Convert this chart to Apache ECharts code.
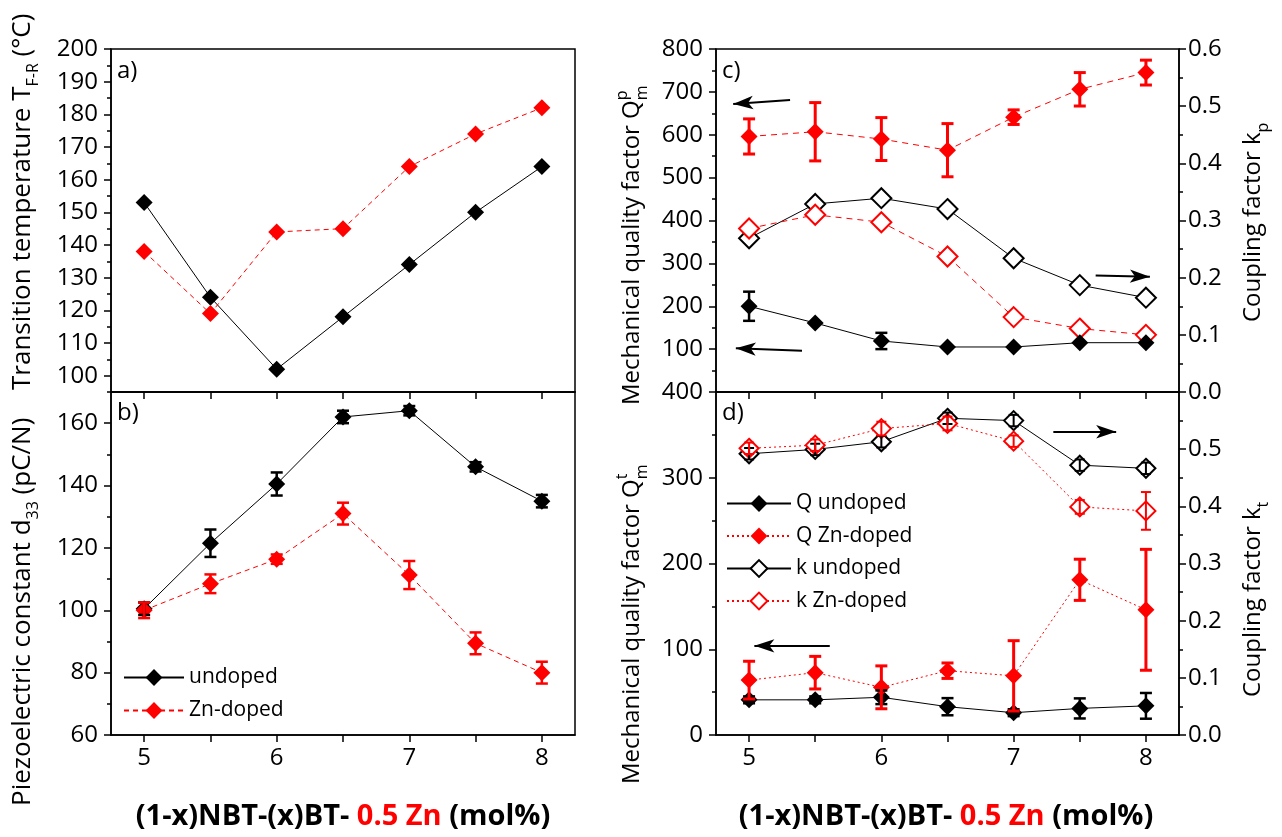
<!DOCTYPE html>
<html>
<head>
<meta charset="utf-8">
<title>NBT-BT-Zn properties</title>
<script src="https://cdn.jsdelivr.net/npm/echarts@6/dist/echarts.min.js"></script>
<style>
  html, body { margin: 0; padding: 0; background: #fff; }
  #chart { width: 1282px; height: 837px; }
</style>
</head>
<body>
<div id="chart"></div>
<script>
// ---- data: BT content x (mol%) ----
const composition = [5, 5.5, 6, 6.5, 7, 7.5, 8];
const xTickLabels = [5, 6, 7, 8];

// a) transition temperature T_F-R (°C)
const tfrUndoped = [153, 124, 102, 118, 134, 150, 164];
const tfrZn      = [138, 119, 144, 145, 164, 174, 182];

// b) piezoelectric constant d33 (pC/N)
const d33Undoped    = [100.5, 121.5, 140.5, 162, 164, 146, 135];
const d33UndopedErr = [2, 4.4, 3.7, 2, 1.5, 1.5, 2];
const d33Zn         = [100, 108.5, 116.4, 131, 111.3, 89.4, 80];
const d33ZnErr      = [2.5, 3, 1.5, 3.5, 4.5, 3.5, 3.5];

// c) planar mode: Qm^p (left axis) and kp (right axis)
const qpUndoped    = [200, 161, 119, 105, 105, 115, 115];
const qpUndopedErr = [34, 0, 19, 0, 0, 0, 0];
const qpZn         = [596, 607, 590, 564, 641, 706, 745];
const qpZnErr      = [41, 68, 50, 62, 17, 39, 29];
const kpUndoped    = [0.269, 0.329, 0.339, 0.320, 0.234, 0.187, 0.165];
const kpZn         = [0.286, 0.310, 0.297, 0.237, 0.131, 0.111, 0.100];

// d) thickness mode: Qm^t (left axis) and kt (right axis)
const qtUndoped    = [41, 41, 44, 33, 26, 31, 34];
const qtUndopedErr = [4, 4, 8, 10, 4, 11.7, 15];
const qtZn         = [64, 72.7, 55.6, 75, 69, 181, 146];
const qtZnErr      = [22, 19, 25, 9, 41, 24, 70.5];
const ktUndoped    = [0.492, 0.4995, 0.513, 0.554, 0.55, 0.472, 0.4665];
const ktUndopedErr = [0.01, 0.01, 0.01, 0.01, 0.01, 0.01, 0.01];
const ktZn         = [0.5015, 0.507, 0.536, 0.545, 0.514, 0.399, 0.392];
const ktZnErr      = [0.01, 0.01, 0.012, 0.012, 0.01, 0.012, 0.033];

// ---- y-axis tick sets ----
const aTicks = [100, 110, 120, 130, 140, 150, 160, 170, 180, 190, 200];
const aMinor = [105, 115, 125, 135, 145, 155, 165, 175, 185, 195];
const bTicks = [60, 80, 100, 120, 140, 160];
const bMinor = [70, 90, 110, 130, 150, 170];
const cLeftTicks  = [0, 100, 200, 300, 400, 500, 600, 700, 800];
const cLeftLabels = [100, 200, 300, 400, 500, 600, 700, 800];
const cLeftMinor  = [50, 150, 250, 350, 450, 550, 650, 750];
const kTicks  = [0, 0.1, 0.2, 0.3, 0.4, 0.5, 0.6];
const kMinor  = [0.05, 0.15, 0.25, 0.35, 0.45, 0.55];
const cRightLabels = [0, 0.1, 0.2, 0.3, 0.4, 0.5, 0.6];
const dLeftTicks  = [0, 100, 200, 300, 400];
const dLeftMinor  = [50, 150, 250, 350];
const dRightLabels = [0, 0.1, 0.2, 0.3, 0.4, 0.5];

const FONT = '"Open Sans", "Noto Sans", sans-serif';
const RED = '#ff0000';
const BLACK = '#000000';
const TICK_FONT = 24;

const chart = echarts.init(document.getElementById('chart'), null, { renderer: 'canvas' });

const pairs = (vals) => composition.map((x, i) => [x, vals[i]]);

// ---- axes ----
function xAxisFor(grid, showLabels) {
  return {
    type: 'value', gridIndex: grid, min: 4.75, max: 8.25, position: 'bottom',
    axisLine: { show: true, onZero: false, lineStyle: { color: BLACK, width: 1.5 } },
    axisTick: { show: true, customValues: composition, length: 7, lineStyle: { color: BLACK, width: 1.5 } },
    axisLabel: { show: showLabels, customValues: xTickLabels, fontSize: TICK_FONT, color: BLACK, margin: 11, fontFamily: FONT },
    splitLine: { show: false }
  };
}
function yAxisFor(grid, pos, min, max, ticks, labels, fmt) {
  return {
    type: 'value', gridIndex: grid, position: pos, min: min, max: max,
    axisLine: { show: true, onZero: false, lineStyle: { color: BLACK, width: 1.5 } },
    axisTick: { show: true, customValues: ticks, length: 7, lineStyle: { color: BLACK, width: 1.5 } },
    axisLabel: { show: true, customValues: labels, fontSize: TICK_FONT, color: BLACK, fontFamily: FONT,
                 margin: pos === 'left' ? 13 : 9, formatter: fmt || (v => String(v)) },
    splitLine: { show: false }
  };
}
function yMinorFor(grid, pos, min, max, ticks) {
  return {
    type: 'value', gridIndex: grid, position: pos, min: min, max: max,
    axisLine: { show: false, onZero: false },
    axisTick: { show: true, customValues: ticks, length: 4, lineStyle: { color: BLACK, width: 1.5 } },
    axisLabel: { show: false },
    splitLine: { show: false }
  };
}
const oneDecimal = v => v.toFixed(1);

// ---- series helpers ----
function lineSeries(name, xi, yi, vals, color, dash, symbol, size, extra) {
  const empty = symbol === 'emptyDiamond';
  return Object.assign({
    type: 'line', name: name, xAxisIndex: xi, yAxisIndex: yi,
    data: pairs(vals),
    symbol: symbol, symbolSize: size, showSymbol: true,
    lineStyle: { color: color, width: 1, type: dash },
    itemStyle: { color: color, borderColor: color, borderWidth: empty ? 1.3 : 0 },
    z: empty ? 2 : 3, animation: false, silent: true, clip: false
  }, extra || {});
}
function errorBars(name, xi, yi, vals, errs, color, lw, cap) {
  return {
    type: 'custom', name: name, xAxisIndex: xi, yAxisIndex: yi,
    data: composition.map((x, i) => [x, vals[i], errs[i]]).filter(d => d[2] > 0),
    encode: { x: 0, y: 1 },
    z: 4, silent: true, animation: false, clip: false,
    renderItem: function (params, api) {
      const x = api.value(0), y = api.value(1), e = api.value(2);
      const hi = api.coord([x, y + e]);
      const lo = api.coord([x, y - e]);
      const st = { stroke: color, lineWidth: lw };
      return {
        type: 'group',
        children: [
          { type: 'line', shape: { x1: hi[0], y1: hi[1], x2: lo[0], y2: lo[1] }, style: st },
          { type: 'line', shape: { x1: hi[0] - cap / 2, y1: hi[1], x2: hi[0] + cap / 2, y2: hi[1] }, style: st },
          { type: 'line', shape: { x1: lo[0] - cap / 2, y1: lo[1], x2: lo[0] + cap / 2, y2: lo[1] }, style: st }
        ]
      };
    }
  };
}
// arrows telling which axis a group of points belongs to
function arrow(from, to) {
  return [{ coord: from, symbol: 'none' }, { coord: to, symbol: 'arrow', symbolSize: [10, 20] }];
}
function arrowMark(list) {
  return {
    silent: true, animation: false,
    symbol: ['none', 'arrow'],
    label: { show: false },
    emphasis: { disabled: true },
    lineStyle: { color: BLACK, width: 2, type: 'solid' },
    data: list
  };
}

const DIA = 17;      // filled diamond size
const ODIA_C = 20;   // open diamond, panel c
const ODIA_D = 19;   // open diamond, panel d

// ---- axis titles (rotated, reading upward) ----
function vTitle(x, y, text, rich, size) {
  return {
    type: 'text', x: x, y: y, rotation: Math.PI / 2, silent: true,
    style: {
      text: text, rich: rich, fontSize: size, fontFamily: FONT, fill: BLACK,
      align: 'left', verticalAlign: 'middle',
      textAlign: 'left', textVerticalAlign: 'middle'
    }
  };
}
const sub = (fs) => ({ fontSize: fs, fontFamily: FONT, padding: [20, 0, 0, 0] });
const sup = (fs) => ({ fontSize: fs, fontFamily: FONT, padding: [0, 0, 20, 0] });
const hidden = (fs) => ({ fontSize: fs, fontFamily: FONT, fill: 'rgba(0,0,0,0)', color: 'rgba(0,0,0,0)' });

function panelLabel(x, y, t) {
  return { type: 'text', x: x, y: y, silent: true,
    style: { text: t, fontSize: 24, fontFamily: FONT, fill: BLACK, align: 'left', verticalAlign: 'top' } };
}
function xTitle(cx, cy) {
  return {
    type: 'text', x: cx, y: cy, silent: true,
    style: {
      text: '{b|(1-x)NBT-(x)BT- }{r|0.5 Zn}{b| (mol%)}',
      align: 'center', verticalAlign: 'middle', textAlign: 'center', textVerticalAlign: 'middle',
      rich: {
        b: { fontSize: 29, fontWeight: 'bold', fontFamily: FONT, fill: BLACK, color: BLACK },
        r: { fontSize: 29, fontWeight: 'bold', fontFamily: FONT, fill: RED, color: RED }
      }
    }
  };
}

const option = {
  backgroundColor: '#ffffff',
  animation: false,
  textStyle: { fontFamily: FONT },
  grid: [
    { left: 111, top: 49, width: 464, height: 343, show: true, borderColor: BLACK, borderWidth: 1.5, backgroundColor: 'transparent' },
    { left: 111, top: 392, width: 464, height: 343, show: true, borderColor: BLACK, borderWidth: 1.5, backgroundColor: 'transparent' },
    { left: 716, top: 49, width: 463, height: 343, show: true, borderColor: BLACK, borderWidth: 1.5, backgroundColor: 'transparent' },
    { left: 716, top: 392, width: 463, height: 343, show: true, borderColor: BLACK, borderWidth: 1.5, backgroundColor: 'transparent' }
  ],
  xAxis: [xAxisFor(0, false), xAxisFor(1, true), xAxisFor(2, false), xAxisFor(3, true)],
  yAxis: [
    yAxisFor(0, 'left', 95, 200, aTicks, aTicks),                   // 0
    yMinorFor(0, 'left', 95, 200, aMinor),                          // 1
    yAxisFor(1, 'left', 60, 170, bTicks, bTicks),                   // 2
    yMinorFor(1, 'left', 60, 170, bMinor),                          // 3
    yAxisFor(2, 'left', 0, 800, cLeftTicks, cLeftLabels),           // 4
    yMinorFor(2, 'left', 0, 800, cLeftMinor),                       // 5
    yAxisFor(2, 'right', 0, 0.6, kTicks, cRightLabels, oneDecimal), // 6
    yMinorFor(2, 'right', 0, 0.6, kMinor),                          // 7
    yAxisFor(3, 'left', 0, 400, dLeftTicks, dLeftTicks),            // 8
    yMinorFor(3, 'left', 0, 400, dLeftMinor),                       // 9
    yAxisFor(3, 'right', 0, 0.6, kTicks, dRightLabels, oneDecimal), // 10
    yMinorFor(3, 'right', 0, 0.6, kMinor)                           // 11
  ],
  legend: [
    {
      left: 118, top: 662, orient: 'vertical', itemWidth: 60, itemHeight: 21, itemGap: 12,
      data: ['undoped', 'Zn-doped'], selectedMode: false,
      textStyle: { fontSize: 21, color: BLACK, fontFamily: FONT }
    },
    {
      left: 721, top: 488, orient: 'vertical', itemWidth: 64, itemHeight: 21, itemGap: 11.5,
      data: ['Q undoped', 'Q Zn-doped', 'k undoped', 'k Zn-doped'], selectedMode: false,
      textStyle: { fontSize: 21, color: BLACK, fontFamily: FONT }
    }
  ],
  series: [
    // a)
    lineSeries('T undoped', 0, 0, tfrUndoped, BLACK, 'solid', 'diamond', DIA),
    lineSeries('T Zn-doped', 0, 0, tfrZn, RED, [5, 4], 'diamond', DIA),
    // b)
    lineSeries('undoped', 1, 2, d33Undoped, BLACK, 'solid', 'diamond', DIA),
    lineSeries('Zn-doped', 1, 2, d33Zn, RED, [5, 4], 'diamond', DIA),
    errorBars('d33 undoped err', 1, 2, d33Undoped, d33UndopedErr, BLACK, 2.5, 12),
    errorBars('d33 Zn err', 1, 2, d33Zn, d33ZnErr, RED, 2.5, 12),
    // c)
    lineSeries('kp undoped', 2, 6, kpUndoped, BLACK, 'solid', 'emptyDiamond', ODIA_C,
      { markLine: arrowMark([arrow([7.62, 0.204], [8.03, 0.2017])]) }),
    lineSeries('kp Zn-doped', 2, 6, kpZn, RED, [6, 5], 'emptyDiamond', ODIA_C),
    lineSeries('Qp undoped', 2, 4, qpUndoped, BLACK, 'solid', 'diamond', DIA,
      { markLine: arrowMark([arrow([5.40, 96], [4.90, 102]), arrow([5.31, 681], [4.88, 672])]) }),
    lineSeries('Qp Zn-doped', 2, 4, qpZn, RED, [6, 5], 'diamond', DIA),
    errorBars('Qp undoped err', 2, 4, qpUndoped, qpUndopedErr, BLACK, 2.5, 12),
    errorBars('Qp Zn err', 2, 4, qpZn, qpZnErr, RED, 3, 12),
    // d)
    lineSeries('k undoped', 3, 10, ktUndoped, BLACK, 'solid', 'emptyDiamond', ODIA_D,
      { markLine: arrowMark([arrow([7.30, 0.5305], [7.775, 0.5305])]) }),
    lineSeries('k Zn-doped', 3, 10, ktZn, RED, [2, 3], 'emptyDiamond', ODIA_D),
    errorBars('kt undoped err', 3, 10, ktUndoped, ktUndopedErr, BLACK, 2, 10),
    errorBars('kt Zn err', 3, 10, ktZn, ktZnErr, RED, 2, 10),
    lineSeries('Q undoped', 3, 8, qtUndoped, BLACK, 'solid', 'diamond', DIA,
      { markLine: arrowMark([arrow([5.61, 104], [5.04, 104])]) }),
    lineSeries('Q Zn-doped', 3, 8, qtZn, RED, [2, 3], 'diamond', DIA),
    errorBars('Qt undoped err', 3, 8, qtUndoped, qtUndopedErr, BLACK, 2.5, 12),
    errorBars('Qt Zn err', 3, 8, qtZn, qtZnErr, RED, 3, 12)
  ],
  graphic: [
    panelLabel(117, 59, 'a)'),
    panelLabel(117, 401, 'b)'),
    panelLabel(722, 59, 'c)'),
    panelLabel(722, 401, 'd)'),
    vTitle(23, 390, 'Transition temperature T{s|F-R} (°C)', { s: sub(16) }, 26),
    vTitle(23, 806, 'Piezoelectric constant d{s|33} (pC/N)', { s: sub(16) }, 26),
    vTitle(632, 405, 'Mechanical quality factor Q{s|m}', { s: sub(16) }, 24),
    vTitle(632, 405, '{h|Mechanical quality factor Q}{s|p}', { h: hidden(24), s: sup(16) }, 24),
    vTitle(632, 784, 'Mechanical quality factor Q{s|m}', { s: sub(16) }, 24),
    vTitle(632, 784, '{h|Mechanical quality factor Q}{s|t}', { h: hidden(24), s: sup(16) }, 24),
    vTitle(1253, 322, 'Coupling factor k{s|p}', { s: sub(16) }, 24),
    vTitle(1253, 697, 'Coupling factor k{s|t}', { s: sub(16) }, 24),
    xTitle(343, 817),
    xTitle(946, 817)
  ]
};

chart.setOption(option);
</script>
</body>
</html>
